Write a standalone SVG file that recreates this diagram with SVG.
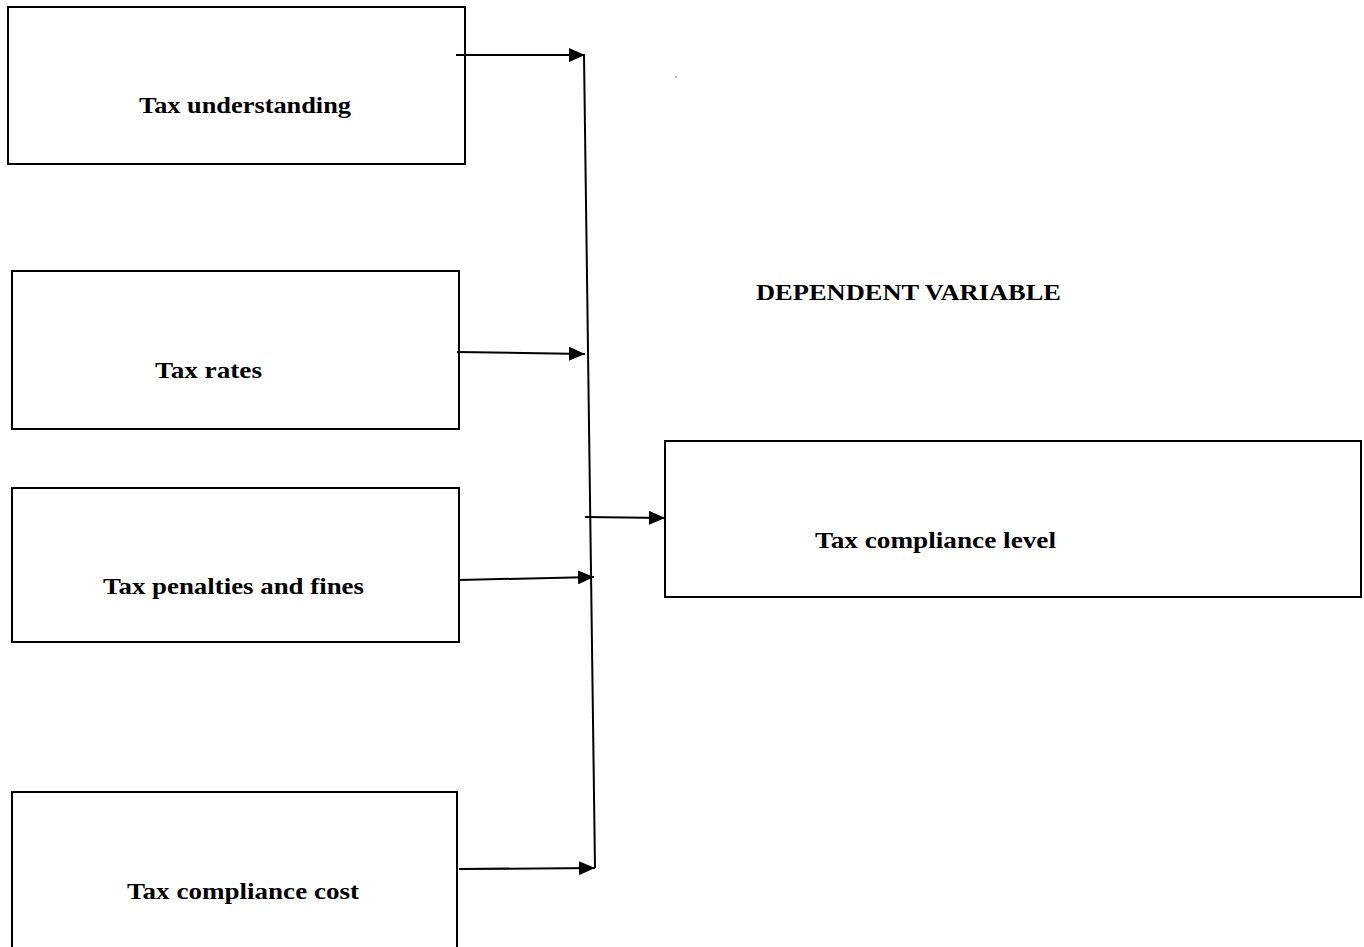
<svg xmlns="http://www.w3.org/2000/svg" width="1364" height="947" viewBox="0 0 1364 947">
<style>
.box{fill:#fff;stroke:#000;stroke-width:2}
.lbl{font-family:"Liberation Serif","Times New Roman",serif;font-weight:bold;font-size:24px;fill:#000}
.con{stroke:#000;stroke-width:2;fill:none}
</style>
<defs>
<marker id="ah" markerWidth="16" markerHeight="14" refX="16" refY="7" orient="auto" markerUnits="userSpaceOnUse" viewBox="0 0 16 14">
<path d="M0,0 L16,7 L0,14 z" fill="#000"/>
</marker>
</defs>
<rect width="1364" height="947" fill="#fff"/>
<g id="n1"><rect class="box" x="8" y="7" width="457" height="157"/><text class="lbl" x="139" y="113" textLength="212" lengthAdjust="spacingAndGlyphs">Tax understanding</text></g>
<g id="n2"><rect class="box" x="12" y="271" width="447" height="158"/><text class="lbl" x="155" y="378" textLength="107" lengthAdjust="spacingAndGlyphs">Tax rates</text></g>
<g id="n3"><rect class="box" x="12" y="488" width="447" height="154"/><text class="lbl" x="103" y="594" textLength="261" lengthAdjust="spacingAndGlyphs">Tax penalties and fines</text></g>
<g id="n4"><rect class="box" x="12" y="792" width="445" height="160"/><text class="lbl" x="127" y="899" textLength="232" lengthAdjust="spacingAndGlyphs">Tax compliance cost</text></g>
<g id="n5"><rect class="box" x="665" y="441" width="696" height="156"/><text class="lbl" x="815" y="548" textLength="241" lengthAdjust="spacingAndGlyphs">Tax compliance level</text></g>
<g id="hdr"><text class="lbl" x="756" y="300" textLength="305" lengthAdjust="spacingAndGlyphs">DEPENDENT  VARIABLE</text></g>
<g id="connectors">
<line class="con" x1="584" y1="55" x2="595" y2="868"/>
<line class="con" x1="456" y1="55" x2="585" y2="55" marker-end="url(#ah)"/>
<line class="con" x1="457" y1="352" x2="585" y2="354" marker-end="url(#ah)"/>
<line class="con" x1="459" y1="580" x2="594" y2="577" marker-end="url(#ah)"/>
<line class="con" x1="459" y1="869" x2="595" y2="868" marker-end="url(#ah)"/>
<line class="con" x1="585" y1="517" x2="665" y2="518" marker-end="url(#ah)"/>
</g>
<circle cx="676" cy="77" r="1" fill="#999"/>
</svg>
